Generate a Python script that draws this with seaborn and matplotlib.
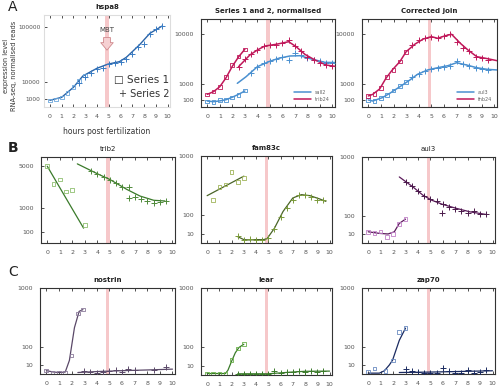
import numpy as np
import matplotlib
matplotlib.use("Agg")
import matplotlib.pyplot as plt
import seaborn as sns

# ---- data (hours post fertilization, expression level) ----
# A: hspa8
hspa8_line_h = [0, 1, 2, 2.8, 4, 4.9, 5.9, 6.5, 7.6, 8.5, 9.55]
hspa8_line_v = [700, 1450, 6000, 14900, 23200, 28300, 31800, 38300, 59600, 84200, 101700]
hspa8_sq_h = [0, 0.5, 1, 1.5, 2, 2.5, 3]
hspa8_sq_v = [650, 900, 1400, 3000, 6200, 10500, 15500]
hspa8_pl_h = [2.5, 3, 3.5, 4, 4.5, 5, 5.5, 6, 6.5, 7, 7.5, 8, 8.5, 9, 9.5]
hspa8_pl_v = [9000, 14000, 18000, 22000, 24000, 28000, 30000, 31500, 36000, 44000, 56000, 62000, 82000, 93000, 101000]

# A: series 1 and 2, normalised
n_blue1_h = [0, 0.5, 1, 1.5, 2, 2.5, 3]
n_blue1_v = [67, 53, 70, 100, 180, 300, 480]
n_blue1_sq = [60, 50, 95, 100, 170, 280, 500]
n_blue2_h = [2.4, 3.1, 4, 4.9, 5.7, 6.6, 7.4, 8.4, 9.4, 10.2]
n_blue2_v = [1050, 1720, 3040, 3840, 4440, 4870, 4930, 4260, 3730, 3700]
n_blue_pl_h = [3.5, 4, 4.5, 5, 5.5, 6, 6.5, 7, 7.5, 8, 8.5, 9, 9.5, 10]
n_blue_pl_v = [2200, 3000, 3700, 3900, 4300, 4600, 4100, 5400, 5000, 4500, 4200, 3900, 3700, 3700]
n_red1_h = [0, 0.5, 1, 1.5, 2, 2.5, 3]
n_red1_v = [300, 440, 770, 1600, 3100, 4700, 6240]
n_red1_sq = [290, 450, 750, 1700, 3300, 4800, 6200]
n_red2_h = [2.5, 3.4, 4, 4.6, 5.5, 6.5, 7.1, 7.8, 8.6, 9.5, 10.2]
n_red2_v = [3040, 5060, 6080, 6960, 7360, 7980, 6800, 5190, 4130, 3300, 3100]
n_red_pl_h = [2.5, 3, 3.5, 4, 4.5, 5, 5.5, 6, 6.5, 7, 7.5, 8, 8.5, 9, 9.5, 10]
n_red_pl_v = [3000, 4300, 5200, 6000, 7000, 7200, 7300, 7600, 8400, 6900, 5800, 4600, 4100, 3600, 3300, 3200]

# A: corrected join
c_red_h = [0, 0.35, 0.9, 1.4, 1.9, 2.5, 3, 3.7, 4.35, 5, 5.5, 6.1, 6.6, 7.3, 7.9, 8.6, 9.3, 10.2]
c_red_v = [227, 300, 610, 1550, 2570, 3850, 5730, 7410, 8650, 9270, 8840, 9510, 9900, 7580, 6080, 4740, 4440, 4020]
c_red_mk_h = [0, 0.5, 1, 1.5, 2, 2.5, 3, 3.5, 4, 4.5, 5, 5.5, 6, 6.5, 7, 7.5, 8, 8.5, 9, 9.5]
c_red_mk_v = [240, 330, 700, 1650, 2600, 3900, 5600, 7200, 8300, 8900, 9300, 8800, 9400, 10100, 7900, 6500, 5800, 4700, 4500, 4200]
c_blue_h = [0, 0.35, 1.1, 1.7, 2.5, 3.3, 3.9, 4.7, 5.5, 6.3, 7, 7.8, 8.6, 9.4, 10.2]
c_blue_v = [92, 67, 161, 350, 770, 1370, 2000, 2570, 2890, 3190, 3670, 3300, 2890, 2660, 2570]
c_blue_mk_h = [0, 0.5, 1, 1.5, 2, 2.5, 3, 3.5, 4, 4.5, 5, 5.5, 6, 6.5, 7, 7.5, 8, 8.5, 9, 9.5]
c_blue_mk_v = [95, 70, 150, 260, 500, 800, 1200, 1650, 2050, 2450, 2700, 2850, 3000, 3200, 3900, 3400, 3100, 2900, 2700, 2600]

# B: trib2
trib2_l1_h = [0, 1, 2, 2.9]
trib2_l1_v = [4940, 2570, 970, 185]
trib2_sq_h = [0, 0.5, 1, 1.5, 2, 3]
trib2_sq_v = [5000, 2950, 3380, 2210, 2350, 277]
trib2_l2_h = [2.4, 4, 5, 6.35, 7.4, 8.5, 9.4]
trib2_l2_v = [5250, 4020, 3380, 2410, 1850, 1530, 1480]
trib2_pl_h = [3.5, 4, 4.5, 5, 5.5, 6, 6.5, 6.5, 7, 7.5, 8, 8.5, 9, 9.5]
trib2_pl_v = [4400, 4000, 3700, 3300, 3000, 2600, 2600, 1700, 1800, 1650, 1500, 1350, 1400, 1450]

# B: fam83c
fam_l1_h = [0, 1, 2, 3]
fam_l1_v = [296, 383, 481, 590]
fam_sq_h = [0.5, 1, 1.5, 2, 2.5, 3]
fam_sq_v = [248, 416, 450, 670, 487, 562]
fam_l2_h = [2.5, 3, 3.5, 4, 4.6, 4.9, 5.5, 6.2, 7, 7.7, 8.4, 9.2, 9.7]
fam_l2_v = [5.3, 1.5, 1.2, 1.5, 1.5, 2.5, 29, 131, 268, 309, 296, 256, 229]
fam_pl_h = [2.5, 3, 3.5, 4, 4.5, 5, 5.5, 6, 6.5, 7, 7.5, 8, 8.5, 9, 9.5]
fam_pl_v = [6, 1.5, 2, 1.5, 1.2, 3, 25, 90, 160, 250, 310, 300, 280, 250, 240]

# B: aul3
aul_l1_h = [0, 0.9, 1.6, 2.1, 2.5, 3]
aul_l1_v = [17, 12.5, 11, 17, 52, 77]
aul_sq_h = [0, 0.5, 1, 1.5, 2, 2.5, 3]
aul_sq_v = [16, 13, 18, 4.4, 11, 48, 80]
aul_l2_h = [2.5, 3.6, 4.4, 5.1, 6, 7.1, 8.2, 9.5]
aul_l2_v = [590, 425, 309, 248, 201, 162, 131, 110]
aul_pl_h = [3, 3.5, 4, 4.5, 5, 5.5, 5.9, 6, 6.5, 7, 7.5, 8, 8.5, 9, 9.5]
aul_pl_v = [500, 440, 370, 300, 260, 240, 120, 210, 180, 160, 140, 120, 135, 115, 110]

# C: nostrin
nos_l1_h = [0, 0.5, 1, 1.5, 1.83, 2.23, 2.6, 2.9]
nos_l1_v = [1.5, 0.6, 0.3, 0.5, 25, 290, 530, 560]
nos_sq_h = [0, 0.5, 1, 1.5, 2, 2.5, 2.9]
nos_sq_v = [1.8, 0.3, 0.2, 0.2, 47, 494, 560]
nos_l2_h = [2.5, 4, 6, 8, 10]
nos_l2_v = [0.3, 0.8, 1.5, 2.2, 3.2]
nos_pl_h = [3, 3.5, 4, 4.5, 5, 5.5, 6, 6.5, 7, 8.5, 9.5]
nos_pl_v = [1.5, 0.4, 0.3, 0.7, 1.2, 2, 0.4, 2.8, 2.2, 2.5, 7]

# C: lear
lear_l1_h = [0, 0.5, 1, 1.5, 1.7, 2, 2.3, 2.6, 3]
lear_l1_v = [0.3, 0.3, 0.3, 0.3, 3, 25, 65, 100, 125]
lear_sq_h = [0, 0.5, 1, 1.5, 2, 2.5, 3]
lear_sq_v = [0.3, 0.3, 0.3, 0.3, 29, 92, 125]
lear_l2_h = [2.5, 5, 6, 7, 8, 10]
lear_l2_v = [0.2, 0.2, 0.6, 1.2, 1.8, 2]
lear_pl_h = [2.5, 3, 3.5, 4, 4.5, 5, 5.5, 6, 6.5, 7, 7.5, 8, 8.5, 9, 9.5]
lear_pl_v = [0.2, 0.2, 0.2, 0.2, 0.2, 0.2, 2.5, 0.7, 0.9, 1.4, 2, 1.3, 2.6, 1.6, 2]

# C: zap70
zap_l1_h = [0, 0.9, 1.3, 1.7, 1.96, 2.5, 3]
zap_l1_v = [0.1, 0.1, 1.4, 11, 26, 153, 284]
zap_sq_h = [0, 0.5, 1.4, 2, 2.5, 3]
zap_sq_v = [0.4, 4.3, 1, 25, 237, 284]
zap_l2_h = [2.5, 5, 7, 10]
zap_l2_v = [0.3, 0.5, 0.8, 1.4]
zap_pl_h = [3, 3.5, 4, 4.5, 5, 5.5, 6, 6.5, 7, 7.5, 8, 8.5, 9, 9.5]
zap_pl_v = [2.9, 1, 0.8, 0.1, 0.1, 0.1, 4.4, 1, 0.1, 0.1, 2.5, 0.1, 0.8, 2.6]

hours = list(range(0, 11))

sns.set_style("ticks")
plt.rcParams['font.family'] = ['DejaVu Sans']

W, H = 500, 387
fig = plt.figure(figsize=(5.0, 3.87), dpi=100)


def make_ax(l, r, t, b):
    return fig.add_axes([l / W, 1 - b / H, (r - l) / W, (b - t) / H])


def fwd(v):
    return np.sqrt(np.clip(v, 0, None))


def inv(v):
    return np.square(v)


def setup(ax, title, ymax, yticks, frame='#333333', bold=True, ypad=5):
    ax.set_yscale('function', functions=(fwd, inv))
    ax.set_xlim(-0.5, 10.2)
    ax.set_ylim(0, ymax)
    ax.set_xticks(hours)
    ax.set_xticklabels([str(h) for h in hours])
    ax.set_yticks(yticks)
    ax.set_yticklabels([str(t) for t in yticks])
    ax.minorticks_off()
    ax.tick_params(direction='in', length=2.5, width=0.6, labelsize=4.5,
                   labelcolor='#555555', top=True, right=False, pad=5, color='#333333')
    ax.tick_params(axis='y', pad=ypad)
    for s in ax.spines.values():
        s.set_linewidth(0.8)
        s.set_color(frame)
    ax.axvspan(4.72, 4.98, color='#f6c8ca', lw=0, zorder=0)
    ax.set_title(title, fontsize=5, fontweight='bold' if bold else 'normal', pad=4, color='#222222')


def line(ax, h, v, c, lw=1.1):
    sns.lineplot(x=h, y=v, ax=ax, color=c, lw=lw, sort=False, zorder=3)


def squares(ax, h, v, c):
    sns.scatterplot(x=h, y=v, ax=ax, marker='s', s=7, fc='none', ec=c, linewidth=0.6, zorder=4)


def pluses(ax, h, v, c):
    sns.scatterplot(x=h, y=v, ax=ax, marker='+', s=14, color=c, linewidth=0.7, zorder=4)


# ---- row A ----
ax = make_ax(44, 170, 15, 107)
setup(ax, 'hspa8', 131000, [1000, 10000, 100000], frame='#dddddd', ypad=2.5)
ax.tick_params(axis='y', labelsize=4.2)
line(ax, hspa8_line_h, hspa8_line_v, '#2a64a8', lw=1.0)
squares(ax, hspa8_sq_h, hspa8_sq_v, '#6aa6dc')
pluses(ax, hspa8_pl_h, hspa8_pl_v, '#3a7cc4')
ax.annotate('MBT', xy=(4.85, 50000), xytext=(4.85, 85000), ha='center', va='bottom',
            fontsize=5, color='#444444',
            arrowprops=dict(arrowstyle='simple,head_width=1.0,tail_width=0.55,head_length=0.6',
                            fc='#f6d0d2', ec='#d08a8e', lw=0.6, mutation_scale=9,
                            shrinkA=1, shrinkB=0))
ax.text(5.45, 11300, '\u25a1 Series 1', fontsize=7.5, color='#333333', va='center')
ax.text(5.85, 2600, '+ Series 2', fontsize=7, color='#333333', va='center')
ax.set_xlabel('hours post fertilization', fontsize=5.5, color='#333333', labelpad=6)
fig.text(10 / W, 1 - 66 / H, 'expression level\nRNA-seq, normalised reads', fontsize=4.8,
         color='#333333', rotation=90, ha='center', va='center', linespacing=1.25)

blue, red = '#4a90d0', '#c0185a'
ax = make_ax(201, 335, 19, 107)
setup(ax, 'Series 1 and 2, normalised', 14500, [100, 1000, 10000])
line(ax, n_blue1_h, n_blue1_v, blue)
line(ax, n_blue2_h, n_blue2_v, blue)
line(ax, n_red1_h, n_red1_v, red)
line(ax, n_red2_h, n_red2_v, red)
squares(ax, n_blue1_h, n_blue1_sq, blue)
squares(ax, n_red1_h, n_red1_sq, red)
pluses(ax, n_blue_pl_h, n_blue_pl_v, blue)
pluses(ax, n_red_pl_h, n_red_pl_v, red)
hb = [plt.Line2D([], [], color=blue, lw=1.1), plt.Line2D([], [], color=red, lw=1.1)]
ax.legend(hb, ['sall2', 'trib24'], loc='lower right', fontsize=3.5, frameon=False,
          handlelength=3.5, borderaxespad=0.6, labelcolor='#666666')

ax = make_ax(362, 497, 19, 107)
setup(ax, 'Corrected join', 14500, [100, 1000, 10000])
line(ax, c_blue_h, c_blue_v, blue)
line(ax, c_red_h, c_red_v, red)
squares(ax, c_blue_mk_h[:7], c_blue_mk_v[:7], blue)
pluses(ax, c_blue_mk_h[7:], c_blue_mk_v[7:], blue)
squares(ax, c_red_mk_h[:7], c_red_mk_v[:7], red)
pluses(ax, c_red_mk_h[7:], c_red_mk_v[7:], red)
ax.legend(hb, ['aul3', 'fnb24'], loc='lower right', fontsize=3.5, frameon=False,
          handlelength=3.5, borderaxespad=0.6, labelcolor='#666666')

# ---- row B ----
ax = make_ax(41, 175, 157, 243)
setup(ax, 'trib2', 6200, [100, 1000, 5000], bold=False)
line(ax, trib2_l1_h, trib2_l1_v, '#3a7a2a', lw=0.9)
line(ax, trib2_l2_h, trib2_l2_v, '#3a7a2a', lw=0.9)
squares(ax, trib2_sq_h, trib2_sq_v, '#8fbf70')
pluses(ax, trib2_pl_h, trib2_pl_v, '#4f8a3a')

ax = make_ax(201, 332, 156, 243)
setup(ax, 'fam83c', 1000, [10, 100, 1000])
line(ax, fam_l1_h, fam_l1_v, '#4a6428', lw=0.9)
line(ax, fam_l2_h, fam_l2_v, '#4a6428', lw=0.9)
squares(ax, fam_sq_h, fam_sq_v, '#a0b45a')
pluses(ax, fam_pl_h, fam_pl_v, '#7a9a3a')

ax = make_ax(362, 495, 157, 243)
setup(ax, 'aul3', 1000, [10, 100, 1000], bold=False)
line(ax, aul_l1_h, aul_l1_v, '#5a1a5a', lw=0.9)
line(ax, aul_l2_h, aul_l2_v, '#5a1a5a', lw=0.9)
squares(ax, aul_sq_h, aul_sq_v, '#c080c8')
pluses(ax, aul_pl_h, aul_pl_v, '#4a1a4a')

# ---- row C ----
ax = make_ax(40, 175, 288, 374)
setup(ax, 'nostrin', 1000, [10, 100, 1000])
line(ax, nos_l1_h, nos_l1_v, '#5a4868', lw=0.9)
line(ax, nos_l2_h, nos_l2_v, '#5a4868', lw=0.9)
squares(ax, nos_sq_h, nos_sq_v, '#8a7a9a')
pluses(ax, nos_pl_h, nos_pl_v, '#5a4868')

ax = make_ax(201, 332, 288, 375)
setup(ax, 'lear', 1000, [10, 100, 1000])
line(ax, lear_l1_h, lear_l1_v, '#3a7a2a', lw=0.9)
line(ax, lear_l2_h, lear_l2_v, '#3a7a2a', lw=0.9)
squares(ax, lear_sq_h, lear_sq_v, '#6ab04a')
pluses(ax, lear_pl_h, lear_pl_v, '#3a7a2a')

ax = make_ax(362, 495, 288, 374)
setup(ax, 'zap70', 1000, [10, 100, 1000])
line(ax, zap_l1_h, zap_l1_v, '#1a2a60', lw=0.9)
line(ax, zap_l2_h, zap_l2_v, '#1a2a60', lw=0.9)
squares(ax, zap_sq_h, zap_sq_v, '#6a8ac0')
pluses(ax, zap_pl_h, zap_pl_v, '#1a2a60')

# panel letters
fig.text(8 / W, 1 - 7 / H, 'A', fontsize=10, color='#222222', va='center')
fig.text(8 / W, 1 - 148 / H, 'B', fontsize=10, color='#222222', va='center', fontweight='bold')
fig.text(8 / W, 1 - 272 / H, 'C', fontsize=10, color='#222222', va='center')

fig.savefig('out.png', dpi=100)
